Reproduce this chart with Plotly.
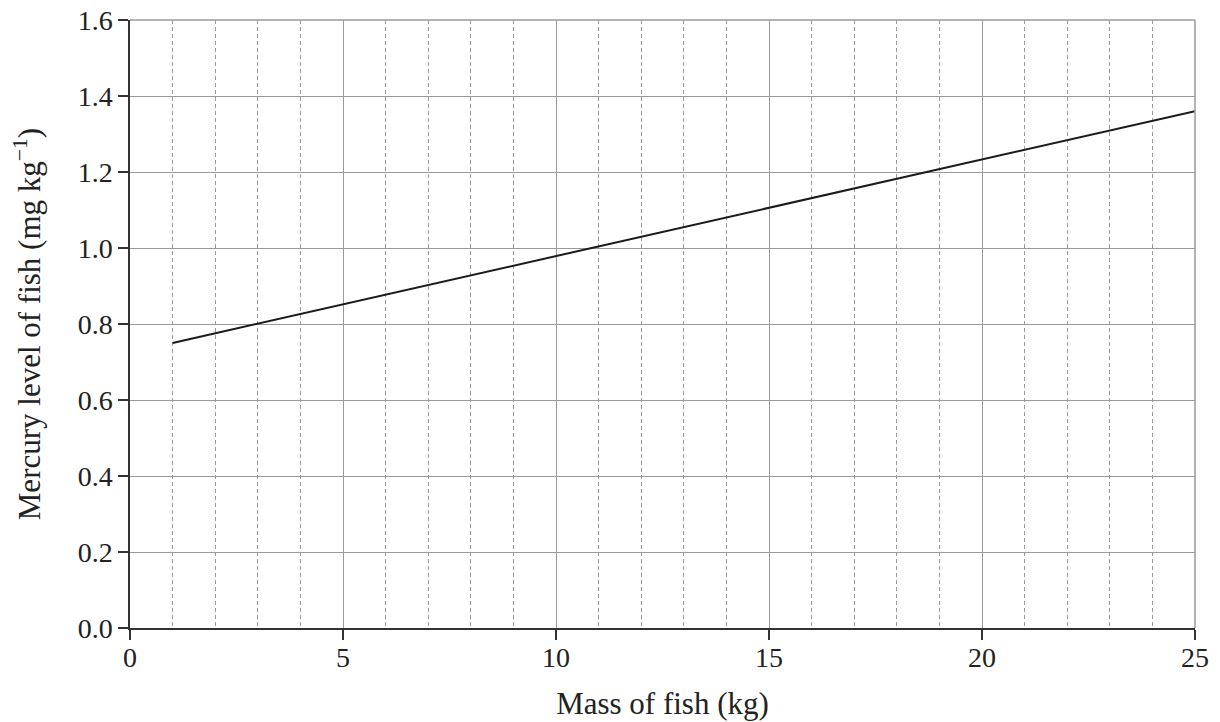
import plotly.graph_objects as go

# Data
mass_kg = [1, 25]
mercury_mg_per_kg = [0.75, 1.36]

x_tick_vals = [0, 5, 10, 15, 20, 25]
y_tick_vals = [0.0, 0.2, 0.4, 0.6, 0.8, 1.0, 1.2, 1.4, 1.6]
y_tick_text = [f"{v:.1f}" for v in y_tick_vals]

font_family = "Liberation Serif"
tick_size = 28
title_size = 31
grid_color = "#9a9a9a"
axis_color = "#333333"

fig = go.Figure()
fig.add_trace(go.Scatter(
    x=mass_kg, y=mercury_mg_per_kg, mode="lines",
    line=dict(color="#1a1a1a", width=2),
    showlegend=False, hoverinfo="skip",
))

fig.update_layout(
    width=1220, height=722,
    margin=dict(l=130, r=25, t=20, b=94),
    paper_bgcolor="white", plot_bgcolor="white",
    font=dict(family=font_family, size=tick_size, color="#222222"),
    xaxis=dict(
        range=[0, 25], tickvals=x_tick_vals, automargin=False,
        ticklabeloverflow="allow",
        showgrid=True, gridcolor=grid_color, gridwidth=1,
        minor=dict(dtick=1, showgrid=True, gridcolor=grid_color,
                   griddash="4px,3px", gridwidth=1, ticks=""),
        showline=True, linecolor=axis_color, linewidth=1.5,
        ticks="outside", ticklen=10, tickcolor=axis_color, tickwidth=1.5,
        ticklabelstandoff=-6,
        zeroline=False, mirror=False,
        title=dict(text="Mass of fish (kg)", standoff=20,
                   font=dict(family=font_family, size=title_size)),
        tickfont=dict(family=font_family, size=tick_size),
    ),
    yaxis=dict(
        range=[0, 1.6], tickvals=y_tick_vals, ticktext=y_tick_text,
        automargin=False, ticklabeloverflow="allow",
        showgrid=True, gridcolor=grid_color, gridwidth=1,
        showline=True, linecolor=axis_color, linewidth=1.5,
        ticks="outside", ticklen=10, tickcolor=axis_color, tickwidth=1.5,
        zeroline=False,
        title=dict(text="Mercury level of fish (mg kg<sup>\u22121</sup>)",
                   standoff=28, font=dict(family=font_family, size=title_size)),
        tickfont=dict(family=font_family, size=tick_size),
    ),
)

# right/top frame edges in grey (like gridlines)
fig.add_shape(type="line", xref="paper", yref="paper", x0=1, x1=1, y0=0, y1=1,
              line=dict(color=grid_color, width=1.5))
fig.add_shape(type="line", xref="paper", yref="paper", x0=0, x1=1, y0=1, y1=1,
              line=dict(color=grid_color, width=1.5))

# remove the default page margin so the figure sits at the window's corner
fig.write_html("out.html", config={"displayModeBar": False},
               post_script="document.body.style.margin='0';")
